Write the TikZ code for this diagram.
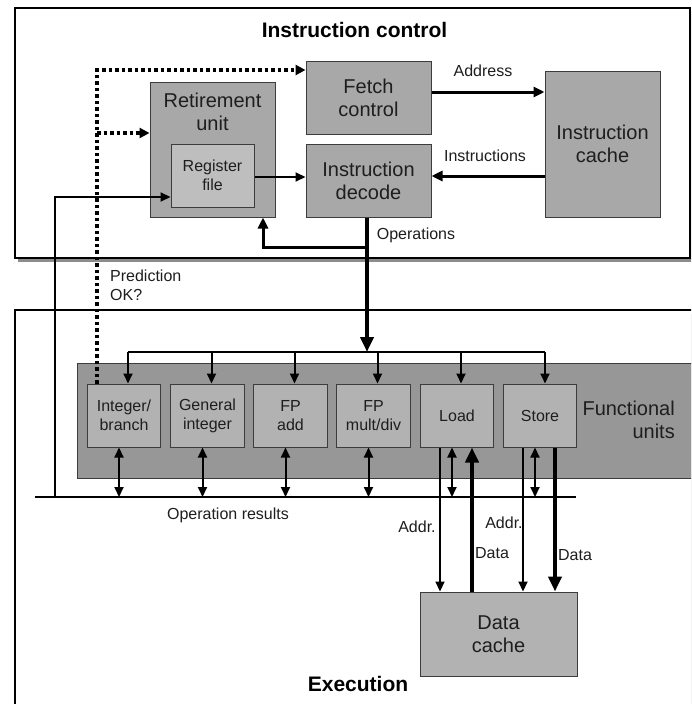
\documentclass[tikz,border=0pt]{standalone}
\usepackage{fontspec}
\setmainfont{Liberation Sans}
\usetikzlibrary{arrows.meta}
\definecolor{boxgray}{HTML}{A8A8A8}
\definecolor{lightbox}{HTML}{BEBEBE}
\definecolor{regiongray}{HTML}{979797}
\definecolor{fugray}{HTML}{B2B2B2}
\definecolor{shadowgray}{HTML}{8C8C8C}
\definecolor{edgegray}{HTML}{3C3C3C}
\definecolor{txt}{HTML}{1E1E1E}
\newcommand\myBig{\fontsize{20}{23}\selectfont}
\newcommand\mySmall{\fontsize{16}{19}\selectfont}
\newcommand\myTitle{\fontsize{21}{24}\selectfont\bfseries}
\tikzset{
  outerbox/.style={draw=black, line width=2.5pt, fill=white, inner sep=0pt},
  bigbox/.style={draw=edgegray, line width=1pt, fill=boxgray, inner sep=0pt, align=center, font=\myBig, text=txt},
  regbox/.style={draw=edgegray, line width=1pt, fill=lightbox, inner sep=0pt, align=center, font=\mySmall, text=txt},
  fubox/.style={draw=edgegray, line width=1pt, fill=fugray, inner sep=0pt, align=center, font=\mySmall, text=txt,
     minimum width=73.5pt, minimum height=63pt},
  lbl/.style={inner sep=0pt, font=\mySmall, text=txt},
  tline/.style={line width=2pt},
  tarrow/.style={line width=2pt, -{Triangle[length=10pt,width=9pt]}},
  tboth/.style={line width=2pt, {Triangle[length=10pt,width=9pt]}-{Triangle[length=10pt,width=9pt]}},
  marrow/.style={line width=3pt, -{Triangle[length=11pt,width=10pt]}},
  karrow/.style={line width=4.5pt, -{Triangle[length=15pt,width=13pt]}},
  dotarrow/.style={line width=3.5pt, dash pattern=on 3.5pt off 3pt, -{Triangle[length=10pt,width=10pt]}},
}
\begin{document}
\begin{tikzpicture}[x=1pt,y=-1pt]
\useasboundingbox (0,0) rectangle (691,704);
\clip (0,0) rectangle (691,704);

% outer frames with shadows
\fill[shadowgray] (18,12) rectangle (694,262);
\node[outerbox, minimum width=675pt, minimum height=250pt] (ic) at (352.5,133) {};
\fill[shadowgray] (18,314) rectangle (720,730);
\node[outerbox, minimum width=700pt, minimum height=410pt] (ex) at (365,515) {};
\node[inner sep=0pt, font=\myTitle] (ictitle) at (354.5,30) {Instruction control};
\node[inner sep=0pt, font=\myTitle] (extitle) at (358,684) {Execution};

% instruction control boxes
\node[bigbox, minimum width=125pt, minimum height=73pt] (fetch) at (368.5,97.5) {Fetch\\control};
\node[bigbox, minimum width=125pt, minimum height=73pt] (decode) at (368.5,180.5) {Instruction\\decode};
\node[bigbox, minimum width=125pt, minimum height=135pt] (retire) at (212.5,149.5) {};
\node[inner sep=0pt, align=center, font=\myBig, text=txt] (retlabel) at (212.5,112) {Retirement\\unit};
\node[regbox, minimum width=83pt, minimum height=63pt] (regf) at (212.5,175.5) {Register\\file};
\node[bigbox, minimum width=115pt, minimum height=146pt] (icache) at (602.5,144) {Instruction\\cache};

% functional units region
\node[draw=edgegray, line width=1pt, fill=regiongray, inner sep=0pt, minimum width=620pt, minimum height=115pt] (fureg) at (387,420.5) {};
\node[inner sep=0pt, align=right, font=\myBig, text=txt, anchor=east] (fulabel) at (675,420) {Functional\\units};
\node[fubox] (intb) at (124,415.5) {Integer/\\branch};
\node[fubox] (gint) at (207.5,415.5) {General\\integer};
\node[fubox] (fpadd) at (290.5,415.5) {FP\\add};
\node[fubox] (fpmul) at (373.5,415.5) {FP\\mult/div};
\node[fubox] (load) at (457,415.5) {Load};
\node[fubox] (store) at (540,415.5) {Store};

\node[bigbox, fill=fugray, minimum width=157pt, minimum height=84pt] (dcache) at (498.5,634) {Data\\cache};

% buses
\coordinate (dbus) at (0,352);
\coordinate (obL) at (35,497);
\coordinate (obR) at (576,497);
\draw[tline] ([xshift=4pt]intb.north |- dbus) -- ([xshift=5pt]store.north |- dbus);
\draw[tline] (obL) -- (obR);

% distribution arrows
\foreach \n in {intb,gint,fpadd,fpmul,load}
  \draw[tarrow] ([xshift=4pt]\n.north |- dbus) -- ([xshift=4pt]\n.north);
\draw[tarrow] ([xshift=5pt]store.north |- dbus) -- ([xshift=5pt]store.north);

% result arrows
\foreach \n in {intb,gint,fpadd,fpmul,load,store}
  \draw[tboth] ([xshift=-5pt]\n.south) -- ([xshift=-5pt]\n.south |- obL);

% operations
\coordinate (opsj) at (367,247);
\draw[karrow] ([xshift=-1.5pt]decode.south) -- ([xshift=-1.5pt]decode.south |- dbus);
\draw[marrow] (opsj) -| ([xshift=50.5pt]retire.south);
\node[lbl] (opslbl) at (416,235) {Operations};

% fetch / cache
\draw[marrow] ([yshift=5.5pt]fetch.east) -- ([yshift=5.5pt]fetch.east -| icache.west);
\draw[marrow] ([yshift=4.5pt]decode.east -| icache.west) -- ([yshift=4.5pt]decode.east);
\node[lbl] (addrlbl) at (483,71) {Address};
\node[lbl] (instlbl) at (485,156) {Instructions};

% register file
\draw[tarrow] (regf.east |- 0,177) -- (decode.west |- 0,177);
\coordinate (rfin) at (55,497);
\draw[tarrow] (rfin) |- ([yshift=-21.5pt]regf.west);

% prediction (dotted)
\coordinate (dbranch) at (97,133);
\draw[dotarrow] ([xshift=-27pt]intb.north) |- ([yshift=27.5pt]fetch.west);
\draw[dotarrow] (dbranch) -- (dbranch -| retire.west);
\node[lbl, align=left, anchor=west] (predlbl) at (110,285) {Prediction\\OK?};

% memory
\draw[tarrow] ([xshift=-17pt]load.south) -- ([xshift=-17pt]load.south |- dcache.north);
\draw[karrow] ([xshift=15pt]load.south |- dcache.north) -- ([xshift=15pt]load.south);
\draw[tarrow] ([xshift=-17pt]store.south) -- ([xshift=-17pt]store.south |- dcache.north);
\draw[karrow] ([xshift=15pt]store.south) -- ([xshift=15pt]store.south |- dcache.north);
\node[lbl] (la) at (417,527) {Addr.};
\node[lbl] (ld) at (492,553) {Data};
\node[lbl] (sa) at (504,523) {Addr.};
\node[lbl] (sd) at (575,555) {Data};
\node[lbl] (oplbl) at (228,515) {Operation results};
\end{tikzpicture}
\end{document}
